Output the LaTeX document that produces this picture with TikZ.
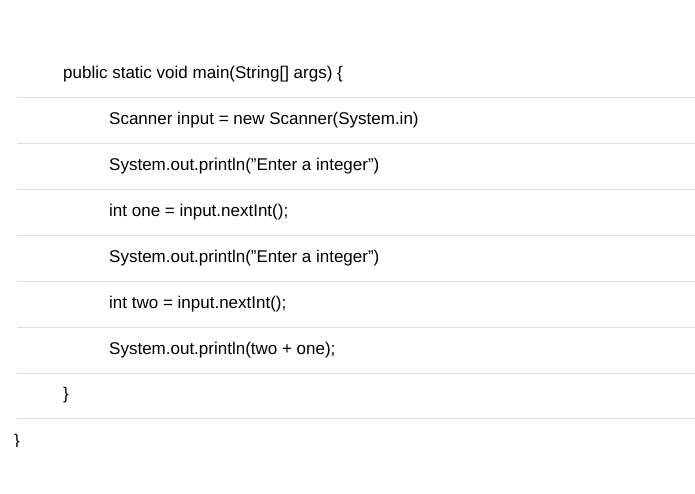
\documentclass[tikz,border=0pt]{standalone}
\usepackage{fontspec}
\setmainfont{Liberation Sans}
\begin{document}
\begin{tikzpicture}[x=1pt,y=-1pt,
  sep/.style={draw=black!12,line width=0.8pt},
  code/.style={anchor=west,inner sep=0pt,font=\fontsize{17}{20}\selectfont}]
\useasboundingbox (0,0) rectangle (695,494);
\foreach \y in {97,143,189,235,281,327,373,418} \draw[sep] (17,\y) -- (695,\y);
\node[code] (l0) at (63,74) {public static void main(String[] args) \{};
\node[code] (l1) at (109,120) {Scanner input = new Scanner(System.in)};
\node[code] (l2) at (109,166) {System.out.println("Enter a integer")};
\node[code] (l3) at (109,212) {int one = input.nextInt();};
\node[code] (l4) at (109,258) {System.out.println("Enter a integer")};
\node[code] (l5) at (109,304) {int two = input.nextInt();};
\node[code] (l6) at (109,350) {System.out.println(two + one);};
\node[code] (l7) at (63,395) {\}};
\begin{scope}
\clip (0,430) rectangle (40,446);
\node[code] (l8) at (14,442) {\}};
\end{scope}
\end{tikzpicture}
\end{document}
